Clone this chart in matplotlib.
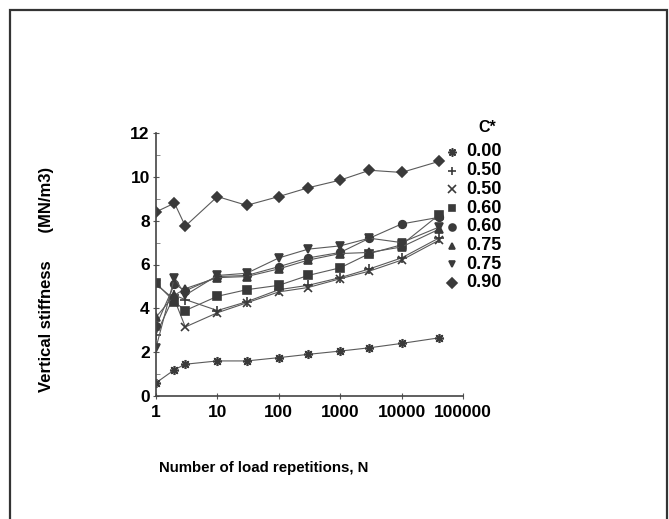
import matplotlib.pyplot as plt
import matplotlib.patches as patches
import numpy as np

plt.rcParams['font.family'] = ['Liberation Sans', 'DejaVu Sans']
plt.rcParams['font.weight'] = 'bold'

# load repetitions where stiffness was measured
reps = [1, 2, 3, 10, 30, 100, 300, 1000, 3000, 10000, 40000]

# vertical stiffness (MN/m3) for each C* value
k_000 = [0.6, 1.2, 1.45, 1.6, 1.6, 1.75, 1.9, 2.05, 2.2, 2.4, 2.65]
k_050a = [2.8, 4.6, 4.4, 3.9, 4.3, 4.85, 5.05, 5.4, 5.8, 6.3, 7.2]
k_050b = [5.1, 4.4, 3.15, 3.8, 4.25, 4.75, 4.95, 5.35, 5.7, 6.2, 7.1]
k_060a = [5.15, 4.3, 3.9, 4.55, 4.85, 5.05, 5.5, 5.85, 6.5, 6.9, 8.25]
k_060b = [3.2, 5.1, 4.8, 5.45, 5.5, 5.9, 6.3, 6.55, 7.2, 7.85, 8.15]
k_075a = [3.6, 4.6, 4.9, 5.4, 5.45, 5.8, 6.2, 6.5, 6.55, 6.8, 7.6]
k_075b = [2.2, 5.4, 4.6, 5.5, 5.6, 6.3, 6.7, 6.85, 7.2, 7.0, 7.7]
k_090 = [8.4, 8.8, 7.75, 9.1, 8.7, 9.1, 9.5, 9.85, 10.3, 10.2, 10.7]

c_labels = ["0.00", "0.50", "0.50", "0.60", "0.60", "0.75", "0.75", "0.90"]
series = [k_000, k_050a, k_050b, k_060a, k_060b, k_075a, k_075b, k_090]
markers = [(8, 2, 0), "+", "x", "s", "o", "^", "v", "D"]
msizes = [6.5, 6.5, 6, 5.5, 5.5, 5.5, 5.5, 5.5]

fig = plt.figure(figsize=(6.69, 5.19), dpi=100)
ax = fig.add_axes([156 / 669, 123 / 519, 307 / 669, 263 / 519])

mark_col = "#3a3a3a"
for vals, m, ms in zip(series, markers, msizes):
    ax.plot(reps, vals, color="#5a5a5a", lw=0.8, marker=m, ms=ms,
            mfc=mark_col, mec=mark_col, mew=1.2)

ax.set_xscale("log")
ax.set_xlim(1, 100000)
ax.set_ylim(0, 12)
ax.set_yticks(np.arange(0, 13, 2))
ax.set_yticks(np.arange(1, 12, 2), minor=True)
ax.set_xticks([1, 10, 100, 1000, 10000, 100000])
ax.set_xticklabels(["1", "10", "100", "1000", "10000", "100000"])

for s in ["top", "right"]:
    ax.spines[s].set_visible(False)
for s in ["left", "bottom"]:
    ax.spines[s].set_color("#444444")
    ax.spines[s].set_linewidth(1.2)

ax.tick_params(axis="both", which="major", labelsize=12.5, direction="inout",
               length=5, color="#555555", pad=2)
ax.tick_params(axis="both", which="minor", direction="in", length=3,
               color="#777777")
ax.tick_params(axis="x", which="major", pad=4)

fig.text(47 / 669, 1 - 279 / 519, "Vertical stiffness      (MN/m3)",
         rotation=90, ha="center", va="center", fontsize=12,
         fontweight="bold")
fig.text(264 / 669, 1 - 468 / 519, "Number of load repetitions, N",
         ha="center", va="center", fontsize=10.8, fontweight="bold")

# legend drawn by hand at the right of the plot
fig.text(478 / 669, 1 - 128 / 519, "C*", ha="left", va="center",
         fontsize=11.5, fontweight="bold")
for i, (lab, m, ms) in enumerate(zip(c_labels, markers, msizes)):
    yy = 1 - (152 + i * 18.7) / 519
    fig.add_artist(plt.Line2D([452 / 669], [yy], marker=m, ms=ms - 0.5,
                              mfc=mark_col, mec=mark_col, mew=1.2,
                              linestyle="none", transform=fig.transFigure))
    fig.text(466 / 669, yy, lab, ha="left", va="center", fontsize=13,
             fontweight="bold")

# outer frame
frame = patches.Rectangle((10 / 669, -0.05), 657 / 669, 1.05 - 10 / 519,
                          transform=fig.transFigure, fill=False,
                          edgecolor="#333333", lw=1.6)
fig.add_artist(frame)

fig.savefig("out.png", dpi=100)
